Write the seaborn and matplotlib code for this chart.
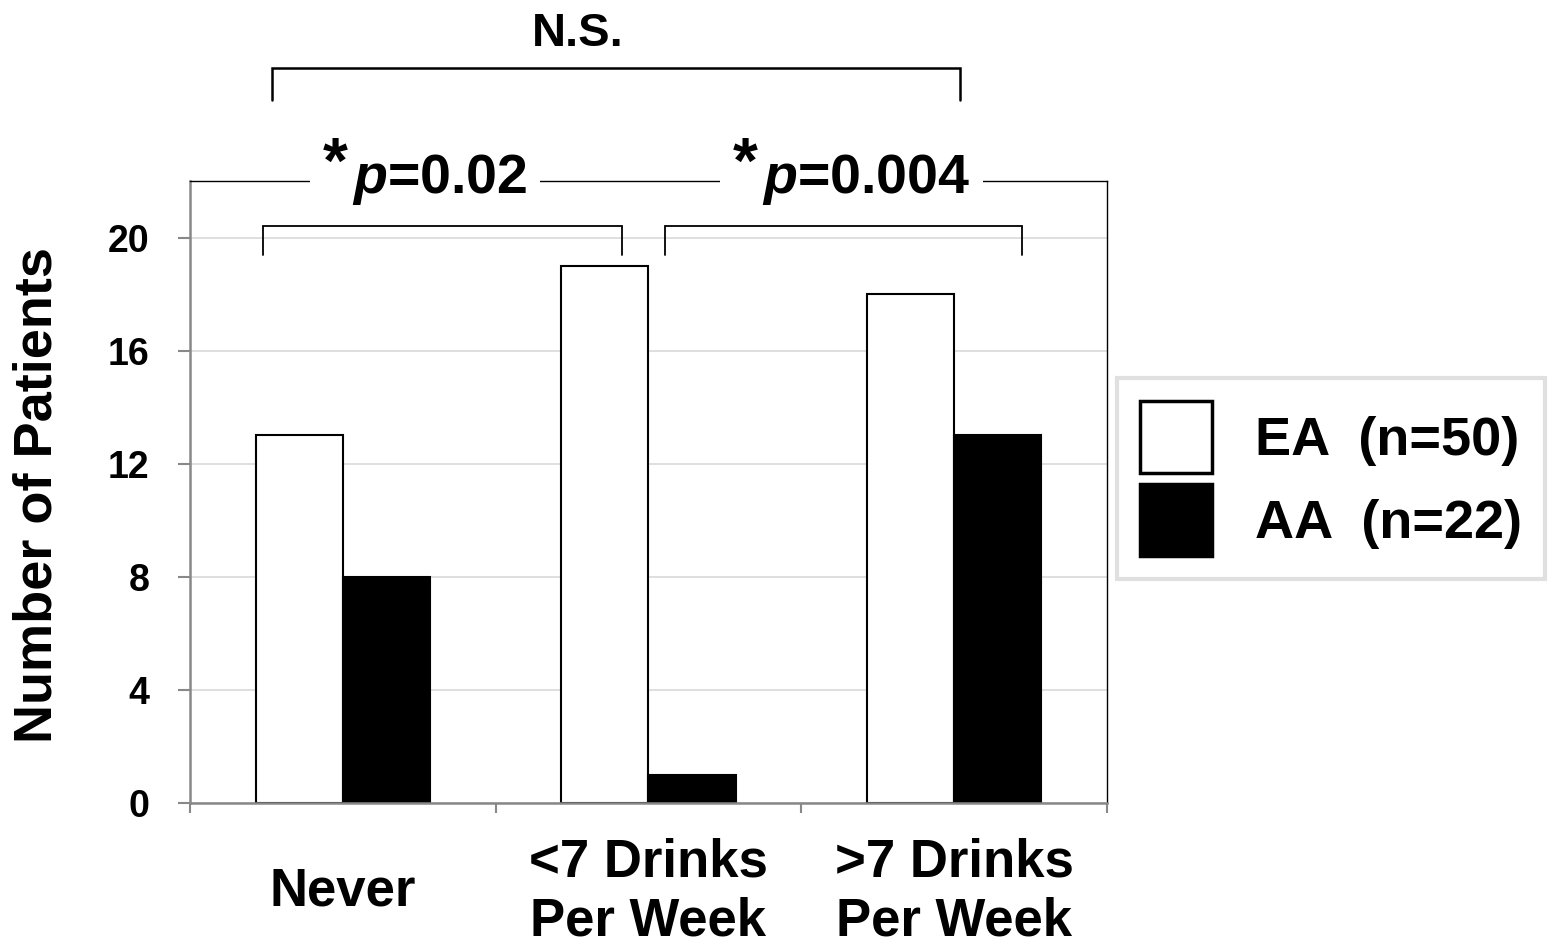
import numpy as np
import pandas as pd
import matplotlib
matplotlib.use("Agg")
import matplotlib.pyplot as plt
from matplotlib.patches import Patch
import seaborn as sns

categories = ["Never", "<7 Drinks\nPer Week", ">7 Drinks\nPer Week"]
groups = ["EA", "AA"]
ea_values = [13, 19, 18]
aa_values = [8, 1, 13]
legend_labels = ["EA  (n=50)", "AA  (n=22)"]
y_ticks = [0, 4, 8, 12, 16, 20]
p_labels = ["=0.02", "=0.004"]

df = pd.DataFrame({
    "category": categories * 2,
    "group": ["EA"] * 3 + ["AA"] * 3,
    "value": ea_values + aa_values,
})

sns.set_theme(style="white")
plt.rcParams["font.family"] = ["Liberation Sans", "DejaVu Sans"]
plt.rcParams["font.weight"] = "bold"
plt.rcParams["text.color"] = "black"
plt.rcParams["axes.labelcolor"] = "black"
plt.rcParams["xtick.color"] = "black"
plt.rcParams["ytick.color"] = "black"
plt.rcParams["mathtext.fontset"] = "custom"
plt.rcParams["mathtext.rm"] = "Liberation Sans:bold"
plt.rcParams["mathtext.bf"] = "Liberation Sans:bold"
plt.rcParams["mathtext.it"] = "Liberation Sans:italic:bold"
plt.rcParams["mathtext.bfit"] = "Liberation Sans:italic:bold"

fig = plt.figure(figsize=(15.49, 9.47), dpi=100)
ax = fig.add_axes([190 / 1549, 1 - 803 / 947, 917 / 1549, 622 / 947])

sns.barplot(data=df, x="category", y="value", hue="group", hue_order=groups,
            palette={"EA": "white", "AA": "black"}, edgecolor="black",
            linewidth=1.5, width=0.57, gap=0, legend=False, ax=ax, zorder=2)

ax.set_xlim(-0.5, 2.5)
ax.set_ylim(0, 22)
ax.set_yticks(y_ticks)
ax.set_yticklabels([str(t) for t in y_ticks], fontsize=27, fontweight="bold", color="black")
ax.yaxis.grid(True, color="#d9d9d9", linewidth=1.2)
ax.set_axisbelow(True)

ax.set_xticks([0, 1, 2])
ax.set_xticklabels(categories, fontsize=38, fontweight="bold", linespacing=1.22, color="black")
ax.set_xticks([-0.5, 0.5, 1.5, 2.5], minor=True)
ax.tick_params(axis="x", which="major", length=0, pad=64)
ax.tick_params(axis="x", which="minor", length=7, width=1.5, color="#888888", direction="out", bottom=True)
ax.tick_params(axis="y", length=9, width=1.5, color="#888888", direction="out", left=True, pad=20)
for lbl in ax.get_xticklabels():
    lbl.set_va("center")
    lbl.set_multialignment("center")

ax.set_xlabel("")
ax.set_ylabel("Number of Patients", fontsize=39, fontweight="bold", color="black")
ax.yaxis.set_label_coords(-0.139, 0.495)

for side in ["left", "bottom"]:
    ax.spines[side].set_color("#888888")
    ax.spines[side].set_linewidth(1.8)
for side in ["top", "right"]:
    ax.spines[side].set_color("black")
    ax.spines[side].set_linewidth(1.0)
    ax.spines[side].set_visible(True)

# significance brackets
def bracket(x0, x1, ytop, ybot, lw=1.3):
    ax.plot([x0, x0, x1, x1], [ybot, ytop, ytop, ybot], color="black", lw=lw,
            clip_on=False, zorder=4, solid_joinstyle="miter")

bracket(-0.261, 0.913, 20.42, 19.40)
bracket(1.054, 2.222, 20.42, 19.40)
bracket(-0.232, 2.019, 25.98, 24.88, lw=1.8)

ax.text(0.769, 27.2, "N.S.", ha="center", va="center", fontsize=34,
        fontweight="bold", clip_on=False, color="black")

# p-value labels: large raised asterisk + bold-italic p
for xp, lab in zip([0.030, 1.371], p_labels):
    # white backing for the asterisk region (masks the top spine)
    ax.annotate("*", xy=(xp, 22.05), xytext=(-3, 10), textcoords="offset points",
                ha="right", va="center", fontsize=46, fontweight="bold",
                annotation_clip=False, zorder=4.5, color="white",
                bbox=dict(facecolor="white", edgecolor="none", pad=9))
    ax.text(xp, 22.05, r"$\mathbfit{p}$" + lab, ha="left", va="center", fontsize=40,
            fontweight="bold", clip_on=False, zorder=5, color="black",
            bbox=dict(facecolor="white", edgecolor="none", pad=9))
    ax.annotate("*", xy=(xp, 22.05), xytext=(-3, 10), textcoords="offset points",
                ha="right", va="center", fontsize=46, fontweight="bold",
                annotation_clip=False, zorder=6, color="black")

handles = [Patch(facecolor="white", edgecolor="black", linewidth=2.5),
           Patch(facecolor="black", edgecolor="black", linewidth=2.5)]
leg = fig.legend(handles, legend_labels, loc="upper left",
                 bbox_to_anchor=(1117 / 1549, 1 - 378 / 947),
                 bbox_transform=fig.transFigure, borderaxespad=0,
                 prop={"family": "Liberation Sans", "weight": "bold", "size": 39},
                 handlelength=1.33, handleheight=1.68, handletextpad=0.8,
                 labelspacing=0.2, borderpad=0.42, frameon=True, fancybox=False)
leg.get_frame().set_edgecolor("#d9d9d9")
leg.get_frame().set_linewidth(3)
for t in leg.get_texts():
    t.set_color("black")

fig.savefig("out.png", dpi=100)
